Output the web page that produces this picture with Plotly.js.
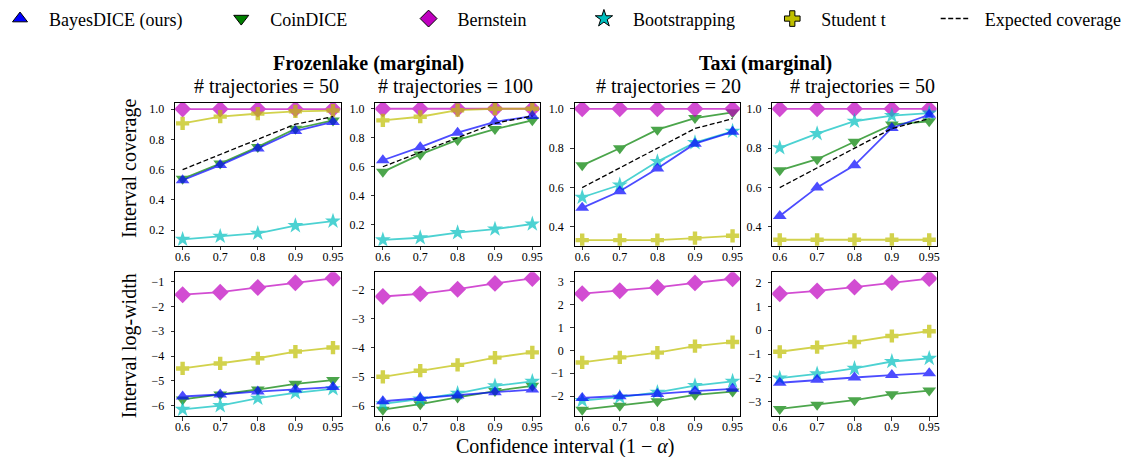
<!DOCTYPE html>
<html><head><meta charset="utf-8">
<script src="https://cdn.plot.ly/plotly-3.0.1.min.js"></script>
<style>html,body{margin:0;padding:0;background:#fff}#chart{width:1133px;height:457px}</style>
</head><body><div id="chart"></div>
<script>
// ---------- data ----------
const confidenceLevels = ["0.6", "0.7", "0.8", "0.9", "0.95"];
const panelTitles = ["# trajectories = 50", "# trajectories = 100", "# trajectories = 20", "# trajectories = 50"];
const envTitles = ["Frozenlake (marginal)", "Taxi (marginal)"];
const methodNames = ["BayesDICE (ours)", "CoinDICE", "Bernstein", "Bootstrapping", "Student t", "Expected coverage"];

// coverage, one row per panel (FL-50, FL-100, Taxi-20, Taxi-50)
const bayesCoverage     = [[0.53, 0.63, 0.74, 0.855, 0.915], [0.645, 0.735, 0.835, 0.91, 0.95], [0.497, 0.581, 0.697, 0.823, 0.883], [0.456, 0.601, 0.713, 0.903, 0.97]];
const coinCoverage      = [[0.54, 0.64, 0.75, 0.87, 0.925], [0.565, 0.685, 0.785, 0.86, 0.92], [0.713, 0.80, 0.894, 0.953, 0.982], [0.688, 0.744, 0.833, 0.92, 0.937]];
const bernsteinCoverage = [[1, 1, 1, 1, 1], [1, 1, 1, 1, 1], [1, 1, 1, 1, 1], [1, 1, 1, 1, 1]];
const bootstrapCoverage = [[0.14, 0.16, 0.18, 0.23, 0.26], [0.095, 0.11, 0.145, 0.17, 0.205], [0.551, 0.613, 0.732, 0.828, 0.886], [0.802, 0.874, 0.937, 0.965, 0.978]];
const studentCoverage   = [[0.905, 0.95, 0.97, 0.985, 0.99], [0.92, 0.945, 0.99, 1.0, 1.0], [0.333, 0.333, 0.333, 0.343, 0.355], [0.335, 0.335, 0.335, 0.335, 0.335]];
const expectedCoverage  = [0.6, 0.7, 0.8, 0.9, 0.95];

// log-width, one row per panel
const bayesLogWidth     = [[-5.63, -5.55, -5.43, -5.35, -5.25], [-5.83, -5.72, -5.63, -5.52, -5.43], [-2.08, -2.0, -1.9, -1.78, -1.68], [-2.2, -2.08, -1.98, -1.88, -1.8]];
const coinLogWidth      = [[-5.75, -5.55, -5.35, -5.12, -4.97], [-6.12, -5.93, -5.70, -5.48, -5.30], [-2.59, -2.42, -2.22, -1.94, -1.80], [-3.3, -3.12, -2.93, -2.68, -2.53]];
const bernsteinLogWidth = [[-1.53, -1.43, -1.24, -1.05, -0.87], [-2.23, -2.14, -1.98, -1.78, -1.61], [2.47, 2.60, 2.74, 2.94, 3.12], [1.53, 1.65, 1.81, 2.0, 2.17]];
const bootstrapLogWidth = [[-6.15, -6.0, -5.7, -5.48, -5.32], [-5.92, -5.76, -5.56, -5.30, -5.15], [-2.19, -2.04, -1.83, -1.54, -1.35], [-2.01, -1.83, -1.60, -1.31, -1.18]];
const studentLogWidth   = [[-4.50, -4.30, -4.09, -3.82, -3.66], [-4.99, -4.78, -4.58, -4.33, -4.15], [-0.53, -0.31, -0.10, 0.18, 0.36], [-0.90, -0.71, -0.49, -0.24, -0.04]];

// ---------- layout helpers ----------
const W = 1133, H = 457;
const px = v => v / W;
const py = v => 1 - v / H;
const FONT = '"Liberation Serif", "Times New Roman", Times, serif';

const panelX = [[171.7, 337.7], [372.7, 537.7], [572.7, 738.7], [771, 936]];
const topY = [100, 244], botY = [270.7, 416];
const topRanges = [[0.097, 1.039], [0.054, 1.039], [0.304, 1.029], [0.304, 1.029]];
const botRanges = [[-6.43, -0.63], [-6.35, -1.40], [-2.88, 3.40], [-3.61, 2.43]];

const styles = [
  {color: "#0000ff", symbol: "triangle-up", size: 12},
  {color: "#008000", symbol: "triangle-down", size: 12},
  {color: "#bf00bf", symbol: "diamond", size: 13},
  {color: "#00bfbf", symbol: "star", size: 12},
  {color: "#bfbf00", symbol: "cross", size: 11}
];
const drawOrder = [1, 2, 3, 4, 0];

function axisBase() {
  return {showline: true, mirror: true, linecolor: "#000", linewidth: 1, ticks: "outside", ticklen: 3.5,
    tickwidth: 0.8, tickcolor: "#000", showgrid: false, zeroline: false, fixedrange: true,
    tickfont: {family: FONT, size: 12, color: "#000"}};
}

const layout = {
  width: W, height: H, margin: {l: 0, r: 0, t: 0, b: 0},
  paper_bgcolor: "#fff", plot_bgcolor: "#fff", showlegend: true,
  annotations: [], font: {family: FONT, color: "#000"}
};

const traces = [];
for (let p = 0; p < 4; p++) {
  for (let row = 0; row < 2; row++) {
    const idx = row * 4 + p + 1;
    const xa = "xaxis" + (idx === 1 ? "" : idx), ya = "yaxis" + (idx === 1 ? "" : idx);
    const xr = "x" + (idx === 1 ? "" : idx), yr = "y" + (idx === 1 ? "" : idx);
    layout[xa] = Object.assign(axisBase(), {type: "category", range: [-0.2, 4.2],
      domain: [px(panelX[p][0]), px(panelX[p][1])], anchor: yr, ticklabelstandoff: -4});
    const yd = row === 0 ? topY : botY;
    layout[ya] = Object.assign(axisBase(), {range: row === 0 ? topRanges[p] : botRanges[p],
      domain: [py(yd[1]), py(yd[0])], anchor: xr, ticklabelstandoff: 4,
      dtick: row === 0 ? 0.2 : 1, tick0: 0, tickformat: row === 0 ? ".1f" : "d"});
    const sets = row === 0
      ? [bayesCoverage, coinCoverage, bernsteinCoverage, bootstrapCoverage, studentCoverage]
      : [bayesLogWidth, coinLogWidth, bernsteinLogWidth, bootstrapLogWidth, studentLogWidth];
    drawOrder.forEach(m => {
      const s = styles[m];
      traces.push({x: confidenceLevels, y: sets[m][p], xaxis: xr, yaxis: yr, type: "scatter",
        mode: "lines+markers", opacity: 0.7, showlegend: false, hoverinfo: "skip",
        line: {color: s.color, width: 1.8},
        marker: {color: s.color, symbol: s.symbol, size: s.size, line: {width: 0}}});
    });
    if (row === 0) {
      traces.push({x: confidenceLevels, y: expectedCoverage, xaxis: xr, yaxis: yr, type: "scatter",
        mode: "lines", showlegend: false, hoverinfo: "skip",
        line: {color: "#000", width: 1.3, dash: "5px,2.5px"}});
    }
  }
  const titleCenters = [263, 453.5, 666.7, 862];
  layout.annotations.push({text: panelTitles[p], xref: "paper", yref: "paper", x: px(titleCenters[p]), y: py(83),
    xanchor: "center", yanchor: "middle", showarrow: false, font: {family: FONT, size: 20, color: "#000"}});
}
// env titles
[[365.5, envTitles[0]], [763.7, envTitles[1]]].forEach(([cx, t]) => {
  layout.annotations.push({text: "<b>" + t + "</b>", xref: "paper", yref: "paper", x: px(cx), y: py(60),
    xanchor: "center", yanchor: "middle", showarrow: false, font: {family: FONT, size: 20, color: "#000"}});
});
// axis labels
layout.annotations.push({text: "Interval coverage", xref: "paper", yref: "paper", x: px(126), y: py(166),
  xanchor: "center", yanchor: "middle", textangle: -90, showarrow: false, font: {family: FONT, size: 20, color: "#000"}});
layout.annotations.push({text: "Interval log-width", xref: "paper", yref: "paper", x: px(126.7), y: py(345),
  xanchor: "center", yanchor: "middle", textangle: -90, showarrow: false, font: {family: FONT, size: 20, color: "#000"}});
layout.annotations.push({text: "Confidence interval (1 \u2212 <i>\u03b1</i>)", xref: "paper", yref: "paper", x: px(563), y: py(446),
  xanchor: "center", yanchor: "middle", showarrow: false, font: {family: FONT, size: 20, color: "#000"}});

// legends (one per entry, to place each exactly)
const markerCenters = [16, 238, 426, 602, 791, 955];
const pad = "\u00a0\u00a0";
for (let i = 0; i < 6; i++) {
  const key = "legend" + (i === 0 ? "" : (i + 1));
  layout[key] = {x: px(markerCenters[i] - 20), y: py(15), xanchor: "left", yanchor: "middle",
    orientation: "h", bgcolor: "rgba(0,0,0,0)", borderwidth: 0, itemwidth: 30,
    font: {family: FONT, size: 18, color: "#000"}};
  if (i < 5) {
    const s = styles[i];
    traces.push({x: [null], y: [null], type: "scatter", mode: "markers", name: pad + methodNames[i], legend: key,
      hoverinfo: "skip", marker: {color: s.color, symbol: s.symbol, size: 13, line: {color: "#000", width: 1}}});
  } else {
    traces.push({x: [null], y: [null], type: "scatter", mode: "lines", name: pad + methodNames[i], legend: key,
      hoverinfo: "skip", line: {color: "#000", width: 1.6, dash: "5px,2.5px"}});
  }
}

Plotly.newPlot("chart", traces, layout, {staticPlot: true, displayModeBar: false});
</script>
</body></html>
